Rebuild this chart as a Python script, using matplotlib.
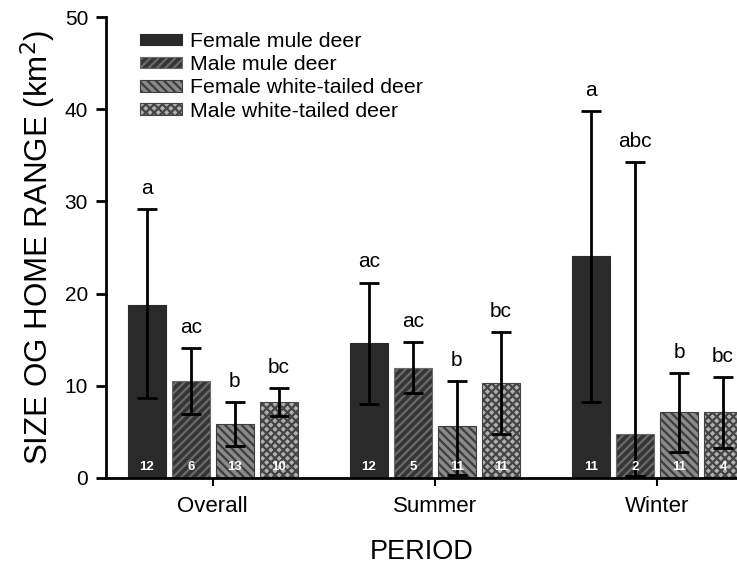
import matplotlib.pyplot as plt
import matplotlib as mpl
import numpy as np

periods = ['Overall', 'Summer', 'Winter']
groups = ['Female mule deer', 'Male mule deer', 'Female white-tailed deer', 'Male white-tailed deer']

# mean home range (km2) per group, per period
means = [[18.8, 14.6, 24.1],
         [10.5, 11.9, 4.8],
         [5.9, 5.6, 7.2],
         [8.2, 10.3, 7.2]]
err_hi = [[29.2, 21.2, 39.8],
          [14.1, 14.7, 34.3],
          [8.2, 10.5, 11.4],
          [9.8, 15.8, 11.0]]
err_lo = [[8.7, 8.0, 8.2],
          [6.9, 9.2, 0.2],
          [3.5, 0.3, 2.8],
          [6.7, 4.8, 3.3]]
letters = [['a', 'ac', 'a'],
           ['ac', 'ac', 'abc'],
           ['b', 'b', 'b'],
           ['bc', 'bc', 'bc']]
n_obs = [['12', '12', '11'],
         ['6', '5', '2'],
         ['13', '11', '11'],
         ['10', '11', '4']]

faces = ['#2a2a2a', '#353535', '#8a8a8a', '#b0b0b0']
hatches = [None, '////', '\\\\\\\\', 'xxxx']
hatch_cols = ['#2a2a2a', '#6a6a6a', '#3e3e3e', '#454545']

mpl.rcParams['font.family'] = ['Liberation Sans', 'DejaVu Sans']
mpl.rcParams['hatch.linewidth'] = 1.6

fig = plt.figure(figsize=(7.37, 5.67), dpi=100)
ax = fig.add_axes([0.144, 0.157, 0.856, 0.813])

x = np.arange(len(periods))
w = 0.171
step = 0.198
for i in range(len(groups)):
    xs = x + (i - 1.5) * step
    m = np.array(means[i])
    hi = np.array(err_hi[i])
    lo = np.array(err_lo[i])
    ax.bar(xs, m, width=w, color=faces[i], edgecolor=hatch_cols[i],
           hatch=hatches[i], linewidth=0.8, label=groups[i], zorder=2)
    ax.errorbar(xs, m, yerr=[m - lo, hi - m], fmt='none', ecolor='black',
                elinewidth=2, capsize=7, capthick=2, zorder=3)
    for j in range(len(periods)):
        ax.text(xs[j], hi[j] + 1.2, letters[i][j], ha='center', va='bottom', fontsize=15)
        ax.text(xs[j], 0.5, n_obs[i][j], ha='center', va='bottom', fontsize=9.5,
                color='white', fontweight='bold', zorder=4)

ax.set_xlim(-0.48, 2.36)
ax.set_ylim(0, 50)
ax.set_yticks([0, 10, 20, 30, 40, 50])
ax.set_xticks(x)
ax.set_xticklabels(periods)
ax.spines['top'].set_visible(False)
ax.spines['right'].set_visible(False)
ax.spines['left'].set_linewidth(2)
ax.spines['bottom'].set_linewidth(2)
ax.tick_params(axis='y', length=7, width=2, labelsize=15, pad=6)
ax.tick_params(axis='x', length=6, width=1.5, labelsize=16, pad=7)
ax.set_ylabel('SIZE OG HOME RANGE (km$^2$)', fontsize=22.5, labelpad=5)
ax.set_xlabel('PERIOD', fontsize=19.5, labelpad=16)

ax.legend(loc='upper left', bbox_to_anchor=(0.03, 1.0), frameon=False, fontsize=15.3,
          handlelength=2.0, handleheight=0.45, handletextpad=0.35, labelspacing=0.2,
          borderaxespad=0.3)

fig.savefig('out.png', dpi=100)
